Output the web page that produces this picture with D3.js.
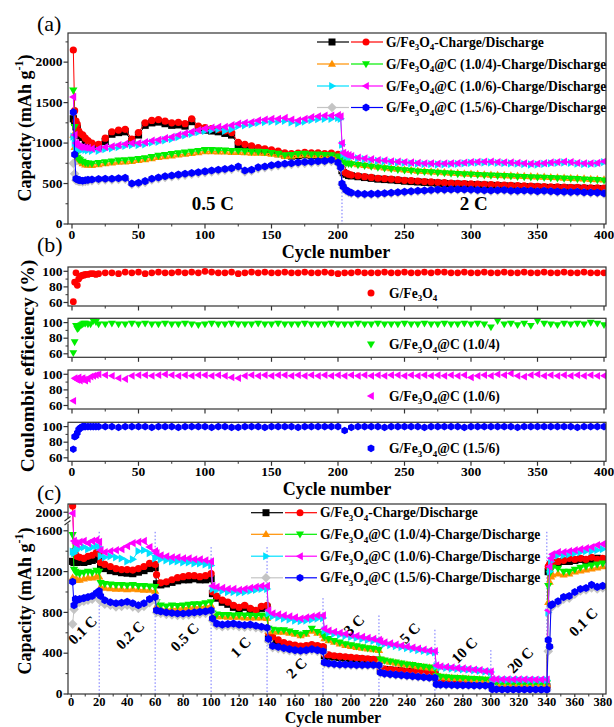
<!DOCTYPE html>
<html><head><meta charset="utf-8">
<script src="https://cdn.jsdelivr.net/npm/d3@7"></script>
<style>
body{margin:0;background:#fff}
svg text{font-family:"Liberation Serif","Times New Roman",serif;font-weight:bold;fill:#000}
</style>
</head><body><svg id="chart" width="614" height="727"></svg>
<script>
// ---------------- DATA ----------------
const seriesNames = ["G/Fe_3O_4","G/Fe_3O_4@C (1.0/4)","G/Fe_3O_4@C (1.0/6)","G/Fe_3O_4@C (1.5/6)"];
const chargeColors = ["#000000","#ff9000","#00e0ff","#c4c4c4"];
const dischargeColors = ["#ff0000","#00ee00","#ff00ff","#0000ff"];
const chargeSymbols = ["square","up","right","diamond"];
const dischargeSymbols = ["circle","down","left","hexagon"];

// Panel (a): cycling at 0.5 C then 2 C
const cyclesA = [1,2,3,4,5,6,8,10,12,
15,20,25,30,35,40,45,50,55,60,65,70,75,80,85,90,95,100,105,110,115,120,125,130,135,140,145,150,155,160,165,170,175,180,185,190,195,200,
202,203,204,206,208,
210,215,220,225,230,235,240,245,250,255,260,265,270,275,280,285,290,295,300,305,310,315,320,325,330,335,340,345,350,355,360,365,370,375,380,385,390,395,400];
const aCharge0 = [1300,1260,1200,1180,1110,1090,1070,1030,1000,
970,955,1020,1110,1130,1140,1020,1100,1220,1250,1260,1240,1220,1225,1210,1265,1180,1160,1150,1140,1120,1100,980,955,935,915,900,885,870,850,840,845,855,850,850,840,845,830,
800,660,635,615,600,
595,585,575,565,555,550,545,538,530,525,520,515,510,505,500,495,492,490,487,484,480,477,474,470,467,464,460,458,455,452,450,448,446,444,442,440,438,436,434];
const aDischarge0 = [2150,1400,1270,1230,1150,1120,1100,1060,1030,
1000,985,1060,1140,1160,1170,1050,1130,1250,1280,1290,1270,1250,1255,1240,1300,1210,1190,1180,1170,1150,1130,1010,985,965,945,930,915,900,880,870,875,885,880,880,870,875,860,
820,680,650,630,615,
605,595,585,575,565,560,555,548,540,535,530,525,520,515,510,505,502,500,497,494,490,487,484,480,477,474,470,468,465,462,460,458,456,454,452,450,448,446,444];
const aCharge1 = [1100,950,800,790,780,770,750,735,730,
728,738,748,758,768,772,778,788,798,812,826,836,846,856,866,876,886,896,898,895,893,888,888,884,880,880,876,866,856,840,842,852,858,850,850,846,842,828,
805,780,768,758,752,
748,738,728,718,708,698,688,680,673,666,658,653,648,643,638,633,628,623,620,616,612,608,605,602,598,594,591,588,585,582,578,575,571,568,564,560,556,552,548];
const aDischarge1 = [1650,1200,850,820,800,790,770,755,748,
745,755,765,775,785,790,795,805,815,830,845,855,865,875,885,895,905,915,915,912,910,905,905,900,895,895,890,880,870,850,855,865,870,860,860,855,850,835,
810,775,760,750,745,
740,730,720,710,700,690,680,672,665,658,650,645,640,635,630,625,620,615,612,608,604,600,597,594,590,586,583,580,577,574,570,567,563,560,556,552,548,544,540];
const aCharge2 = [1080,1000,950,940,930,920,920,915,910,
905,905,925,935,950,965,975,975,985,1005,1015,1035,1050,1075,1095,1115,1135,1150,1160,1170,1150,1170,1210,1220,1230,1250,1260,1265,1265,1275,1255,1245,1265,1285,1295,1300,1300,1310,
1300,980,860,840,830,
830,810,800,790,780,775,765,760,755,750,745,740,740,735,738,740,742,748,755,758,760,760,755,752,750,745,740,735,735,742,750,755,760,755,745,740,740,745,765];
const aDischarge2 = [1570,1100,1000,980,960,950,950,945,940,
930,930,950,960,975,990,1000,1000,1010,1030,1040,1060,1075,1100,1120,1140,1160,1180,1190,1200,1200,1220,1240,1250,1260,1280,1290,1300,1300,1310,1290,1280,1300,1320,1330,1340,1340,1345,
1330,1000,880,860,850,
840,820,810,800,790,785,775,770,765,760,755,750,750,745,748,750,752,758,765,768,770,770,765,762,760,755,750,745,745,752,760,765,770,765,755,750,750,755,775];
const aCharge3 = [750,620,540,535,530,525,520,525,530,
535,540,545,545,550,555,490,495,515,545,560,575,585,595,605,615,625,635,645,655,665,675,695,645,655,685,695,710,720,730,735,745,750,755,760,765,775,745,
690,490,450,410,392,
377,367,362,364,367,372,377,384,390,397,402,407,412,417,417,420,420,420,417,412,410,407,410,412,404,402,407,402,397,402,397,392,390,387,390,384,382,380,372];
const aDischarge3 = [1380,860,560,550,545,540,535,540,545,
550,555,560,560,565,570,500,510,530,560,575,590,600,610,620,630,640,650,660,670,680,690,710,660,670,700,710,725,735,745,750,760,765,770,775,780,790,760,
700,500,460,420,400,
385,375,370,372,375,380,385,392,398,405,410,415,420,425,425,428,428,428,425,420,418,415,418,420,412,410,415,410,405,410,405,400,398,395,398,392,390,388,380];
const rateChangeA = 203;
const rateLabelsA = [{t:"0.5 C", c:106, v:175},{t:"2 C", c:302, v:175}];

// Panel (b): coulombic efficiency (%)
const cyclesB = [1,2,3,4,5,6,7,8,9,10,12,14,16,18,20,
25,30,35,40,45,50,55,60,65,70,75,80,85,90,95,100,105,110,115,120,125,130,135,140,145,150,155,160,165,170,175,180,185,190,195,200,
205,210,215,220,225,230,235,240,245,250,255,260,265,270,275,280,285,290,295,300,305,310,315,320,325,330,335,340,345,350,355,360,365,370,375,380,385,390,395,400];
const ce0 = [61,86,98,82,90,93,94,95,95,96,96,97,97,96,97,
98,98,97,99,98,99,97,98,99,98, 98,99,98,99,98,100,99,98,98,99, 97,98,99,98,99,98,98,99,98,98, 99,98,98,99,98,97,98,98,99,98,
98,98,99,98,98,99,98,98,99,98, 99,99,98,98,99,98,98,99,98,98, 99,98,98,99,98,98,99,98,98,99, 98,98,99,98,98,98];
const ce1 = [61,75,96,92,93,96,97,98,99,99,98,98,102,101,98,
98,99,98,98,99,98,99,98,98,99, 98,98,99,98,97,98,99,98,98,99, 98,98,98,99,98,98,99,98,98,98, 99,98,98,98,99,98,98,98,99,98,
98,99,98,98,98,99,98,98,99,98, 98,99,98,98,99,98,99,98,94,102, 98,99,97,99,96,102,99,98,97,99, 98,99,98,100,99,97];
const ce2 = [66,95,94,93,96,92,94,95,93,92,94,97,98,99,100,
99,98,95,94,98,99,99,98,99,100, 99,98,99,98,99,99,98,99,98,96, 95,98,99,98,99,98,99,99,98,99, 98,99,98,99,98,99,98,99,98,99,
98,99,98,99,99,98,99,98,99,98, 99,98,99,98,99,96,98,99,98,100, 99,101,98,97,99,100,98,99,98,99, 98,99,98,99,98,98];
const ce3 = [71,87,88,92,96,98,99,100,100,100,100,100,100,100,100,
100,100,99,100,100,100,100,99,100,100, 100,99,100,100,100,100,99,100,100,99, 99,100,100,100,99,100,100,100,100,99, 100,100,100,100,100,100,95,99,100,100,
100,100,99,100,100,100,100,100,99,100, 100,100,100,100,99,100,100,100,100,100, 100,100,99,100,100,100,100,100,100,100, 100,99,100,100,100,100];
const ceLegend = ["G/Fe_3O_4","G/Fe_3O_4@C (1.0/4)","G/Fe_3O_4@C (1.0/6)","G/Fe_3O_4@C (1.5/6)"];

// Panel (c): rate capability
const cyclesC = [1,2,3,4,6,9,12,15,18,20,
21,24,28,32,36,40,44,48,52,56,60,
61,64,68,72,76,80,84,88,92,96,100,
101,104,108,112,116,120,124,128,132,136,140,
141,144,148,152,156,160,164,168,172,176,180,
181,184,188,192,196,200,204,208,212,216,220,
221,224,228,232,236,240,244,248,252,256,260,
261,264,268,272,276,280,284,288,292,296,300,
301,304,308,312,316,320,324,328,332,336,340,
341,342,343,344,348,352,356,360,364,368,372,376,380];
const cCharge0 = [1300,1290,1290,1290,1300,1290,1300,1310,1330,1320,
1250,1230,1210,1200,1190,1185,1180,1195,1210,1230,1240,
1080,1070,1080,1095,1110,1120,1120,1130,1120,1120,1130,
985,940,900,880,850,830,850,820,800,840,850,
540,510,495,485,470,460,455,458,468,460,450,
375,370,362,358,352,348,344,340,336,332,328,
245,240,235,230,225,220,215,210,206,204,200,
152,148,143,140,137,133,130,128,125,123,120,
74,74,73,73,72,72,71,71,71,70,70,
1200,1250,1270,1280,1290,1300,1300,1310,1320,1310,1320,1330,1320];
const cDischarge0 = [2060,1400,1370,1350,1340,1330,1350,1360,1385,1370,
1290,1270,1250,1230,1220,1220,1215,1230,1250,1280,1270,
1170,1090,1100,1120,1140,1150,1160,1160,1150,1160,1180,
1000,960,920,900,870,850,870,840,820,860,870,
600,560,530,505,490,480,470,475,485,475,465,
390,385,375,370,365,360,355,350,345,340,335,
250,245,240,235,230,225,220,215,210,208,205,
155,150,145,142,140,135,132,130,128,125,122,
75,75,74,74,73,73,72,72,72,71,70,
1250,1270,1280,1290,1300,1310,1330,1320,1330,1320,1340,1320,1330];
const cCharge1 = [1140,1120,1120,1120,1120,1130,1140,1140,1150,1150,
1050,1040,1035,1030,1030,1025,1030,1025,1020,1020,1010,
860,840,830,835,840,845,850,855,855,860,870,
770,760,760,755,755,755,750,750,750,750,745,
620,615,610,610,600,590,575,590,620,600,580,
545,525,510,495,480,470,460,452,444,438,430,
335,325,315,305,296,288,282,272,265,258,252,
172,168,163,158,156,153,148,146,143,140,138,
106,106,105,104,104,103,103,102,102,101,101,
900,1100,1150,1170,1180,1170,1180,1200,1210,1220,1230,1240,1250];
const cDischarge1 = [1560,1220,1200,1190,1180,1190,1200,1190,1210,1200,
1090,1080,1075,1070,1070,1065,1070,1060,1060,1055,1050,
900,870,860,870,865,870,875,880,880,890,900,
790,780,775,775,770,775,770,770,765,770,760,
640,630,625,625,615,600,585,600,640,610,590,
560,540,520,505,490,480,470,460,450,445,435,
340,330,320,310,300,290,285,275,268,260,255,
175,170,165,160,158,155,150,148,145,142,140,
108,108,107,106,106,105,105,104,104,103,103,
1060,1180,1220,1240,1230,1200,1200,1220,1240,1250,1260,1270,1280];
const cCharge2 = [1395,1380,1400,1420,1430,1440,1420,1440,1450,1440,
1350,1340,1350,1340,1330,1300,1320,1400,1410,1380,1330,
1340,1320,1310,1300,1300,1290,1290,1280,1280,1270,1260,
1030,1020,1010,1000,1000,995,1000,1010,1020,1030,1030,
790,760,750,740,730,720,715,720,730,740,745,
620,600,590,580,570,560,550,540,530,522,515,
500,490,480,470,460,450,440,430,422,414,408,
270,262,256,250,246,242,238,232,228,220,215,
140,140,139,139,138,138,138,137,137,137,136,
800,1200,1300,1340,1360,1360,1370,1380,1390,1400,1400,1410,1420];
const cDischarge2 = [1990,1500,1480,1470,1490,1500,1480,1500,1510,1490,
1410,1390,1400,1410,1420,1450,1480,1490,1500,1440,1400,
1380,1360,1350,1340,1340,1330,1330,1320,1320,1310,1300,
1060,1050,1040,1030,1030,1020,1030,1040,1050,1060,1060,
820,790,780,770,760,750,740,750,760,770,770,
640,620,610,600,590,580,570,560,550,540,530,
515,505,495,485,475,465,455,445,435,425,420,
280,270,265,260,255,250,245,240,235,225,220,
145,145,144,144,143,143,143,142,142,142,141,
820,1250,1330,1370,1390,1390,1400,1410,1420,1430,1440,1460,1470];
const cCharge3 = [686,830,880,890,900,910,920,930,960,980,
910,880,870,855,860,870,855,840,860,895,920,
800,790,780,775,770,770,775,780,785,790,800,
720,670,660,665,670,660,655,660,650,640,635,
520,455,445,435,425,418,412,418,428,418,410,
300,292,288,284,283,281,279,278,278,277,275,
205,196,190,185,180,176,171,166,162,157,155,
92,90,88,86,85,84,83,82,82,81,80,
45,45,44,44,44,43,43,43,43,42,42,
420,460,850,860,890,930,940,980,1010,1020,1040,1030,1040];
const cDischarge3 = [1100,870,930,920,930,940,950,960,990,1010,
960,920,900,890,895,905,890,870,890,930,950,
820,810,800,795,790,790,795,800,805,810,820,
740,690,680,685,690,680,675,680,670,660,650,
540,470,460,450,440,430,425,430,440,430,420,
310,300,295,290,290,288,285,285,285,284,282,
210,200,195,190,185,180,175,170,165,160,158,
95,92,90,88,87,86,85,84,84,83,82,
46,46,45,45,45,44,44,44,44,43,43,
530,465,870,880,910,950,960,1000,1030,1040,1070,1050,1060];
const rateBoundsC = [20,60,100,140,180,220,260,300,340];
const rateBoundTopsC = [1590,1590,1440,1440,940,770,630,430,1590];
const rateLabelsC = ["0.1 C","0.2 C","0.5 C","1 C","2 C","3 C","5 C","10 C","20 C","0.1 C"];
const rateLabelCycleC = [8,42,81,121,161,202,242,281,321,366];
const rateLabelValueC = [627,578,559,461,255,676,598,431,333,706];

// ---------------- HELPERS ----------------
const svg = d3.select("#chart");
function symPath(kind, r){
  const k = r;
  switch(kind){
    case "square": return `M${-k},${-k}H${k}V${k}H${-k}Z`;
    case "circle": return `M${k},0A${k},${k} 0 1,1 ${-k},0A${k},${k} 0 1,1 ${k},0Z`;
    case "up": return `M0,${-1.2*k}L${1.15*k},${0.8*k}L${-1.15*k},${0.8*k}Z`;
    case "down": return `M0,${1.2*k}L${1.15*k},${-0.8*k}L${-1.15*k},${-0.8*k}Z`;
    case "right": return `M${1.2*k},0L${-0.8*k},${-1.15*k}L${-0.8*k},${1.15*k}Z`;
    case "left": return `M${-1.2*k},0L${0.8*k},${-1.15*k}L${0.8*k},${1.15*k}Z`;
    case "diamond": return `M0,${-1.35*k}L${1.35*k},0L0,${1.35*k}L${-1.35*k},0Z`;
    case "hexagon": {
      const p=[]; for(let i=0;i<6;i++){const a=Math.PI/3*i+Math.PI/6; p.push([1.12*k*Math.cos(a),1.12*k*Math.sin(a)]);}
      return "M"+p.map(q=>q[0].toFixed(2)+","+q[1].toFixed(2)).join("L")+"Z";
    }
  }
}
function rich(t, str, size){
  const parts = str.split(/(_[0-9]|\^-1)/).filter(p=>p!=="");
  let cur=0;
  parts.forEach(p=>{
    let target=0, txt=p, fs=size;
    if(p[0]==="_"){target=size*0.28; txt=p.slice(1); fs=size*0.66;}
    else if(p[0]==="^"){target=-size*0.42; txt=p.slice(1); fs=size*0.66;}
    t.append("tspan").attr("dy",(target-cur).toFixed(2)).attr("font-size",fs).text(txt);
    cur=target;
  });
}
function drawSeries(g, cycles, vals, x, y, color, kind, r, withLine){
  if(withLine!==false){
    g.append("path")
      .attr("d", d3.line().x((d,i)=>x(cycles[i])).y(d=>y(d))(vals))
      .attr("fill","none").attr("stroke",color).attr("stroke-width",1);
  }
  g.append("g").selectAll("path").data(vals).join("path")
    .attr("transform",(d,i)=>`translate(${x(cycles[i]).toFixed(2)},${y(d).toFixed(2)})`)
    .attr("d",symPath(kind,r)).attr("fill",color);
}
function frame(x0,y0,x1,y1){
  svg.append("rect").attr("x",x0).attr("y",y0).attr("width",x1-x0).attr("height",y1-y0)
    .attr("fill","none").attr("stroke","#333").attr("stroke-width",1.2);
}
function clip(id,x0,y0,x1,y1){
  svg.append("clipPath").attr("id",id).append("rect").attr("x",x0).attr("y",y0).attr("width",x1-x0).attr("height",y1-y0);
}
function xTicks(x, yb, majors, minors, labels, lsize, loff, tlen){
  const g=svg.append("g");
  const fs=lsize||13.5, off=loff||15, tl=tlen||4.5;
  minors.forEach(v=>g.append("line").attr("x1",x(v)).attr("x2",x(v)).attr("y1",yb).attr("y2",yb+2.5).attr("stroke","#333"));
  majors.forEach(v=>{
    g.append("line").attr("x1",x(v)).attr("x2",x(v)).attr("y1",yb).attr("y2",yb+tl).attr("stroke","#333").attr("stroke-width",1.2);
    if(labels) g.append("text").attr("x",x(v)).attr("y",yb+off).attr("text-anchor","middle").attr("font-size",fs).text(v);
  });
}
function yTicks(y, xl, majors, minors){
  const g=svg.append("g");
  minors.forEach(v=>g.append("line").attr("x1",xl-2.5).attr("x2",xl).attr("y1",y(v)).attr("y2",y(v)).attr("stroke","#333"));
  majors.forEach(v=>{
    g.append("line").attr("x1",xl-4.5).attr("x2",xl).attr("y1",y(v)).attr("y2",y(v)).attr("stroke","#333").attr("stroke-width",1.2);
    g.append("text").attr("x",xl-5.5).attr("y",y(v)+4.3).attr("text-anchor","end").attr("font-size",13.5).text(v);
  });
}
function panelLabel(txt,x,y){
  svg.append("text").attr("x",x).attr("y",y).attr("font-size",22).style("font-weight","normal").text(txt);
}
function xTitle(x,y,size){svg.append("text").attr("x",x).attr("y",y).attr("text-anchor","middle").attr("font-size",size||18).text("Cycle number");}
function yTitle(str,x,y,size){
  const t=svg.append("text").attr("transform",`translate(${x},${y}) rotate(-90)`).attr("text-anchor","middle").attr("font-size",size);
  rich(t,str,size);
}
function legendRow(y, i, xl){
  const g=svg.append("g");
  g.append("line").attr("x1",xl).attr("x2",xl+32).attr("y1",y).attr("y2",y).attr("stroke",chargeColors[i]).attr("stroke-width",1.2);
  g.append("line").attr("x1",xl+34).attr("x2",xl+66).attr("y1",y).attr("y2",y).attr("stroke",dischargeColors[i]).attr("stroke-width",1.2);
  g.append("path").attr("transform",`translate(${xl+15},${y})`).attr("d",symPath(chargeSymbols[i],3.5)).attr("fill",chargeColors[i]);
  g.append("path").attr("transform",`translate(${xl+49},${y})`).attr("d",symPath(dischargeSymbols[i],3.5)).attr("fill",dischargeColors[i]);
  const t=g.append("text").attr("x",xl+69).attr("y",y+4.5).attr("font-size",13.6);
  rich(t, seriesNames[i]+"-Charge/Discharge", 13.6);
}

// ---------------- PANEL (a) ----------------
const xA = d3.scaleLinear().domain([-3,401.5]).range([68,606]);
const yA = d3.scaleLinear().domain([0,2360]).range([224,33]);
clip("clipA",68,33,606,224);
const gA = svg.append("g").attr("clip-path","url(#clipA)");
gA.append("line").attr("x1",xA(rateChangeA)).attr("x2",xA(rateChangeA)).attr("y1",yA(1000)).attr("y2",yA(0))
  .attr("stroke","#7070ff").attr("stroke-width",1).attr("stroke-dasharray","1.5,2");
const aC=[aCharge0,aCharge1,aCharge2,aCharge3], aD=[aDischarge0,aDischarge1,aDischarge2,aDischarge3];
for(let i=0;i<4;i++){
  drawSeries(gA,cyclesA,aC[i],xA,yA,chargeColors[i],chargeSymbols[i],3.6);
  drawSeries(gA,cyclesA,aD[i],xA,yA,dischargeColors[i],dischargeSymbols[i],3.6);
}
frame(68,33,606,224);
xTicks(xA,224,d3.range(0,401,50),d3.range(25,400,50),true);
yTicks(yA,68,d3.range(0,2001,500),d3.range(250,2300,500));
rateLabelsA.forEach(d=>svg.append("text").attr("x",xA(d.c)).attr("y",yA(d.v)).attr("text-anchor","middle").attr("font-size",19).text(d.t));
[42,64,86,107.5].forEach((y,i)=>legendRow(y,i,317));
panelLabel("(a)",37,31);
xTitle(336,258);
yTitle("Capacity (mAh g^-1)",31,128,18);

// ---------------- PANEL (b) ----------------
const xB = xA;
const subTops=[267,318.3,370,422.3], subH=39;
const ceData=[ce0,ce1,ce2,ce3];
subTops.forEach((top,i)=>{
  const yB=d3.scaleLinear().domain([55.5,105.5]).range([top+subH,top]);
  clip("clipB"+i,68,top,606,top+subH);
  const g=svg.append("g").attr("clip-path",`url(#clipB${i})`);
  drawSeries(g,cyclesB,ceData[i],xB,yB,dischargeColors[i],dischargeSymbols[i],3.4,false);
  frame(68,top,606,top+subH);
  xTicks(xB,top+subH,d3.range(0,401,50),d3.range(25,400,50),i===3);
  yTicks(yB,68,[60,80,100],[70,90]);
  svg.append("path").attr("transform",`translate(371,${top+26})`).attr("d",symPath(dischargeSymbols[i],3.5)).attr("fill",dischargeColors[i]);
  const t=svg.append("text").attr("x",389).attr("y",top+30.5).attr("font-size",13.6);
  rich(t,ceLegend[i],13.6);
});
panelLabel("(b)",37,251.5);
xTitle(337,495);
yTitle("Coulombic efficiency (%)",34,366,19.5);

// ---------------- PANEL (c) ----------------
const xC = d3.scaleLinear().domain([-2.3,382.3]).range([68,606]);
const yC = d3.scaleLinear().domain([0,1696,1915,2080]).range([694,521,521,504]);
clip("clipC",68,504,606,694);
const gC = svg.append("g").attr("clip-path","url(#clipC)");
rateBoundsC.forEach((c,i)=>gC.append("line").attr("x1",xC(c)).attr("x2",xC(c)).attr("y1",yC(rateBoundTopsC[i])).attr("y2",694)
  .attr("stroke","#7070ff").attr("stroke-width",1).attr("stroke-dasharray","1.5,2"));
const cC=[cCharge0,cCharge1,cCharge2,cCharge3], cD=[cDischarge0,cDischarge1,cDischarge2,cDischarge3];
for(let i=0;i<4;i++){
  drawSeries(gC,cyclesC,cC[i],xC,yC,chargeColors[i],chargeSymbols[i],3.6);
  drawSeries(gC,cyclesC,cD[i],xC,yC,dischargeColors[i],dischargeSymbols[i],3.6);
}
frame(68,504,606,694);
xTicks(xC,694,d3.range(0,381,20),d3.range(10,381,20),true,12.5,12,3);
yTicks(yC,68,[0,400,800,1200,1600,2000],[200,600,1000,1400]);
// axis break mark
svg.append("rect").attr("x",66).attr("y",518.5).attr("width",4).attr("height",5).attr("fill","#fff");
svg.append("line").attr("x1",64.5).attr("y1",521).attr("x2",70.5).attr("y2",516.5).attr("stroke","#333").attr("stroke-width",1.1);
svg.append("line").attr("x1",64.5).attr("y1",525).attr("x2",70.5).attr("y2",520.5).attr("stroke","#333").attr("stroke-width",1.1);
rateLabelsC.forEach((t,i)=>svg.append("text")
  .attr("transform",`translate(${xC(rateLabelCycleC[i])},${yC(rateLabelValueC[i])}) rotate(-45)`)
  .attr("text-anchor","middle").attr("dy","0.35em").attr("font-size",15).text(t));
[512.7,534.3,556.2,577.8].forEach((y,i)=>legendRow(y,i,251));
panelLabel("(c)",37,499.5);
xTitle(333,723.3,16);
yTitle("Capacity (mAh g^-1)",31,601,18);
</script></body></html>
